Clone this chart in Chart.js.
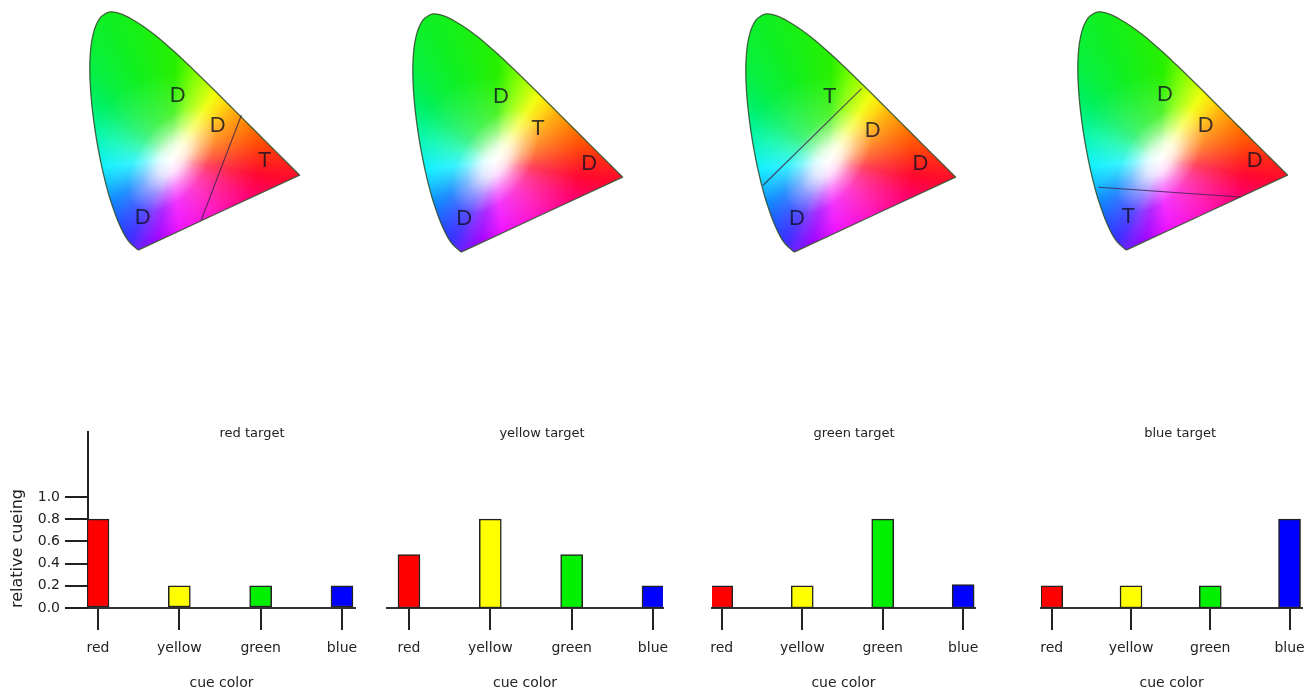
<!DOCTYPE html>
<html>
<head>
<meta charset="utf-8">
<script src="https://cdn.jsdelivr.net/npm/chart.js@4/dist/chart.umd.min.js"></script>
<style>
  body { margin: 0; background: #fff; }
  #page { position: relative; width: 1315px; height: 695px; overflow: hidden; }
  .box { position: absolute; }
</style>
</head>
<body>
<div id="page"></div>
<script>
// CIE 1931 spectral locus, 380 - 700 nm
const locusX = [0.1741, 0.1740, 0.1738, 0.1736, 0.1733, 0.1730, 0.1726, 0.1721, 0.1714, 0.1703,
  0.1689, 0.1669, 0.1644, 0.1611, 0.1566, 0.1510, 0.1440, 0.1355, 0.1241, 0.1096,
  0.0913, 0.0687, 0.0454, 0.0235, 0.0082, 0.0039, 0.0139, 0.0389, 0.0743, 0.1142,
  0.1547, 0.1929, 0.2296, 0.2658, 0.3016, 0.3373, 0.3731, 0.4087, 0.4441, 0.4788,
  0.5125, 0.5448, 0.5752, 0.6029, 0.6270, 0.6482, 0.6658, 0.6801, 0.6915, 0.7006,
  0.7079, 0.7140, 0.7190, 0.7230, 0.7260, 0.7283, 0.7300, 0.7311, 0.7320, 0.7327,
  0.7334, 0.7344, 0.7347];
const locusY = [0.0050, 0.0050, 0.0049, 0.0049, 0.0048, 0.0048, 0.0048, 0.0048, 0.0051, 0.0058,
  0.0069, 0.0086, 0.0109, 0.0138, 0.0177, 0.0227, 0.0297, 0.0399, 0.0578, 0.0868,
  0.1327, 0.2007, 0.2950, 0.4127, 0.5384, 0.6548, 0.7502, 0.8120, 0.8338, 0.8262,
  0.8059, 0.7816, 0.7543, 0.7243, 0.6923, 0.6589, 0.6245, 0.5896, 0.5547, 0.5202,
  0.4866, 0.4544, 0.4242, 0.3965, 0.3725, 0.3514, 0.3340, 0.3197, 0.3083, 0.2993,
  0.2920, 0.2859, 0.2809, 0.2770, 0.2740, 0.2717, 0.2700, 0.2689, 0.2680, 0.2673,
  0.2666, 0.2656, 0.2653];

// target (T) and distractor (D) chromaticities, one diagram per target
const redLetters = ['D', 'D', 'T', 'D'];
const redX = [0.310, 0.449, 0.613, 0.188];
const redY = [0.545, 0.440, 0.318, 0.120];
const redLineX = [0.532, 0.392];
const redLineY = [0.475, 0.109];

const yellowLetters = ['D', 'T', 'D', 'D'];
const yellowX = [0.311, 0.440, 0.618, 0.183];
const yellowY = [0.547, 0.436, 0.314, 0.122];

const greenLetters = ['T', 'D', 'D', 'D'];
const greenX = [0.296, 0.446, 0.612, 0.182];
const greenY = [0.547, 0.430, 0.314, 0.122];
const greenLineX = [0.407, 0.064];
const greenLineY = [0.574, 0.237];

const blueLetters = ['D', 'D', 'D', 'T'];
const blueX = [0.307, 0.449, 0.620, 0.179];
const blueY = [0.548, 0.440, 0.318, 0.123];
const blueLineX = [0.076, 0.570];
const blueLineY = [0.223, 0.189];

// bar panels
const cueColors = ['red', 'yellow', 'green', 'blue'];
const barColors = ['#ff0000', '#ffff00', '#00f000', '#0000ff'];
const yTicks = [0, 0.2, 0.4, 0.6, 0.8, 1.0];
const redTarget = [0.8, 0.2, 0.2, 0.2];
const yellowTarget = [0.48, 0.8, 0.48, 0.2];
const greenTarget = [0.2, 0.2, 0.8, 0.21];
const blueTarget = [0.2, 0.2, 0.2, 0.8];

Chart.defaults.font.family = '"DejaVu Sans", sans-serif';
Chart.defaults.color = '#222';

const PX = 287;           // pixels per chromaticity unit
const whiteX = 0.29, whiteY = 0.32;
// hue seen from the white point (degrees, clockwise from east on screen)
const hueStops = [[0, '#ff2818'], [10, '#ff0830'], [25, '#ff0070'], [50, '#ff00b8'],
  [84, '#f000ff'], [100, '#a000ff'], [110, '#7020ff'], [117, '#4030ff'], [130, '#2050ff'],
  [145, '#0080ff'], [160, '#00c0ff'], [174, '#00f0ff'], [199, '#00f8a8'], [218, '#00f060'],
  [230, '#08f040'], [247, '#10f020'], [272, '#28f000'], [285, '#80ff00'],
  [303, '#f0ff00'], [313, '#ffd800'], [323, '#ffa800'], [338, '#ff7400'], [350, '#ff4c08'], [360, '#ff2818']];

function addCanvas(left, top, w, h) {
  const div = document.createElement('div');
  div.className = 'box';
  div.style.left = left + 'px';
  div.style.top = top + 'px';
  const cv = document.createElement('canvas');
  cv.width = w; cv.height = h;
  cv.style.width = w + 'px'; cv.style.height = h + 'px';
  div.appendChild(cv);
  document.getElementById('page').appendChild(div);
  return cv;
}

function chromaFill(chart) {
  if (!chart.chartArea || !chart.scales.x) return 'rgba(0,0,0,0)';
  const cx = chart.scales.x.getPixelForValue(whiteX);
  const cy = chart.scales.y.getPixelForValue(whiteY);
  const off = document.createElement('canvas');
  off.width = chart.width; off.height = chart.height;
  const g = off.getContext('2d');
  const conic = g.createConicGradient(0, cx, cy);
  hueStops.forEach(([a, c]) => conic.addColorStop(a / 360, c));
  g.fillStyle = conic;
  g.fillRect(0, 0, off.width, off.height);
  // wide pale haze round the white point
  const haze = g.createRadialGradient(cx, cy, 0, cx, cy, 0.3 * PX);
  haze.addColorStop(0, 'rgba(255,255,255,0.45)');
  haze.addColorStop(0.5, 'rgba(255,255,255,0.2)');
  haze.addColorStop(1, 'rgba(255,255,255,0)');
  g.fillStyle = haze;
  g.fillRect(0, 0, off.width, off.height);
  // soft white spot, stretched along the blue-yellow diagonal
  g.save();
  g.translate(cx, cy);
  g.rotate(-55 * Math.PI / 180);
  g.scale(1.6, 0.9);
  const rad = g.createRadialGradient(0, 0, 0, 0, 0, 0.13 * PX);
  rad.addColorStop(0, 'rgba(255,255,255,1)');
  rad.addColorStop(0.3, 'rgba(255,255,255,0.8)');
  rad.addColorStop(0.65, 'rgba(255,255,255,0.3)');
  rad.addColorStop(1, 'rgba(255,255,255,0)');
  g.fillStyle = rad;
  g.fillRect(-PX, -PX, 2 * PX, 2 * PX);
  g.restore();
  return chart.ctx.createPattern(off, 'no-repeat');
}

const letterPlugin = {
  id: 'letters',
  afterDatasetsDraw(chart) {
    const ctx = chart.ctx;
    chart.data.datasets.forEach((ds, i) => {
      if (!ds.letters) return;
      const meta = chart.getDatasetMeta(i);
      ctx.save();
      ctx.font = '22px "Liberation Sans", Arial, sans-serif';
      ctx.fillStyle = 'rgba(15,15,35,0.8)';
      ctx.textAlign = 'center';
      ctx.textBaseline = 'middle';
      meta.data.forEach((pt, j) => ctx.fillText(ds.letters[j], pt.x, pt.y + 1));
      ctx.restore();
    });
  }
};

function horseshoe(left, top, letters, xs, ys, lineX, lineY) {
  const w = 230, h = 253;
  const cv = addCanvas(left, top, w, h);
  const locus = locusX.map((x, i) => ({ x, y: locusY[i] }));
  locus.push(locus[0]);
  const datasets = [{
    data: locus,
    order: 3,
    fill: 'shape',
    tension: 0.3,
    borderColor: 'rgba(45,75,40,0.85)',
    borderWidth: 1.3,
    pointRadius: 0,
    backgroundColor: ctx => chromaFill(ctx.chart)
  }];
  if (lineX) {
    datasets.push({
      data: lineX.map((x, i) => ({ x, y: lineY[i] })),
      order: 1,
      borderColor: 'rgba(55,35,75,0.8)',
      borderWidth: 1.1,
      pointRadius: 0,
      fill: false
    });
  }
  datasets.push({
    data: xs.map((x, i) => ({ x, y: ys[i] })),
    order: 0,
    letters,
    showLine: false,
    pointRadius: 0
  });
  new Chart(cv, {
    type: 'line',
    data: { datasets },
    options: {
      responsive: false,
      animation: false,
      events: [],
      layout: { padding: 0 },
      scales: {
        x: { type: 'linear', display: false, min: -0.02, max: -0.02 + w / PX },
        y: { type: 'linear', display: false, min: -0.02, max: -0.02 + h / PX }
      },
      plugins: { legend: { display: false }, tooltip: { enabled: false } }
    },
    plugins: [letterPlugin]
  });
}

const titlePlugin = {
  id: 'panelTitle',
  afterDraw(chart, args, opts) {
    const { ctx, chartArea } = chart;
    ctx.save();
    ctx.font = '13px "DejaVu Sans"';
    ctx.fillStyle = '#222';
    ctx.textAlign = 'center';
    ctx.textBaseline = 'middle';
    ctx.fillText(opts.text, (chartArea.left + chartArea.right) / 2 + opts.dx, chartArea.top + 2);
    ctx.restore();
  }
};

function barPanel(left, width, padL, padR, xMin, xMax, values, title, titleDx, showY) {
  const cv = addCanvas(left, 415, width, 280);
  new Chart(cv, {
    type: 'bar',
    data: {
      datasets: [{
        data: values.map((v, i) => ({ x: i, y: v })),
        backgroundColor: barColors,
        borderColor: '#222',
        borderWidth: 1.5,
        borderSkipped: false,
        barThickness: 22
      }]
    },
    options: {
      responsive: false,
      animation: false,
      events: [],
      layout: { padding: { left: padL, right: padR, top: 17, bottom: 0 } },
      plugins: {
        legend: { display: false },
        tooltip: { enabled: false },
        panelTitle: { text: title, dx: titleDx }
      },
      scales: {
        x: {
          type: 'linear', min: xMin, max: xMax, offset: false,
          afterBuildTicks: s => { s.ticks = cueColors.map((c, i) => ({ value: i })); },
          afterFit: s => { s.height = 87; },
          ticks: { callback: v => cueColors[v], font: { size: 14 }, color: '#222', padding: 10, autoSkip: false, maxRotation: 0 },
          grid: { offset: false, drawOnChartArea: false, drawTicks: true, tickLength: 22, color: '#222', lineWidth: 2 },
          border: { display: true, color: '#333', width: 2 },
          title: { display: true, text: 'cue color', font: { size: 14 }, color: '#222', padding: { top: 4, bottom: 3 } }
        },
        y: {
          display: showY, min: 0, max: 1.585,
          afterBuildTicks: s => { s.ticks = yTicks.map(v => ({ value: v })); },
          afterFit: s => { s.width = showY ? 88 : 0; },
          ticks: { callback: v => v.toFixed(1), font: { size: 14 }, color: '#222', padding: 5 },
          grid: { drawOnChartArea: false, drawTicks: true, tickLength: 23, color: '#222', lineWidth: 2 },
          border: { display: true, color: '#222', width: 2 },
          title: { display: true, text: 'relative cueing', align: 'start', font: { size: 16 }, color: '#222', padding: { top: 8, bottom: 0 } }
        }
      }
    },
    plugins: [titlePlugin]
  });
}

horseshoe(83, 4, redLetters, redX, redY, redLineX, redLineY);
horseshoe(406, 6, yellowLetters, yellowX, yellowY);
horseshoe(739, 6, greenLetters, greenX, greenY, greenLineX, greenLineY);
horseshoe(1071, 4, blueLetters, blueX, blueY, blueLineX, blueLineY);

barPanel(0, 370, 0, 15, -0.123, 3.16, redTarget, 'red target', 30.5, true);
barPanel(380, 300, 7, 17, -0.27, 3.123, yellowTarget, 'yellow target', 17, false);
barPanel(700, 300, 8, 25, -0.122, 3.147, greenTarget, 'green target', 10.5, false);
barPanel(1030, 285, 11, 7, -0.136, 3.16, blueTarget, 'blue target', 8.5, false);
</script>
</body>
</html>
